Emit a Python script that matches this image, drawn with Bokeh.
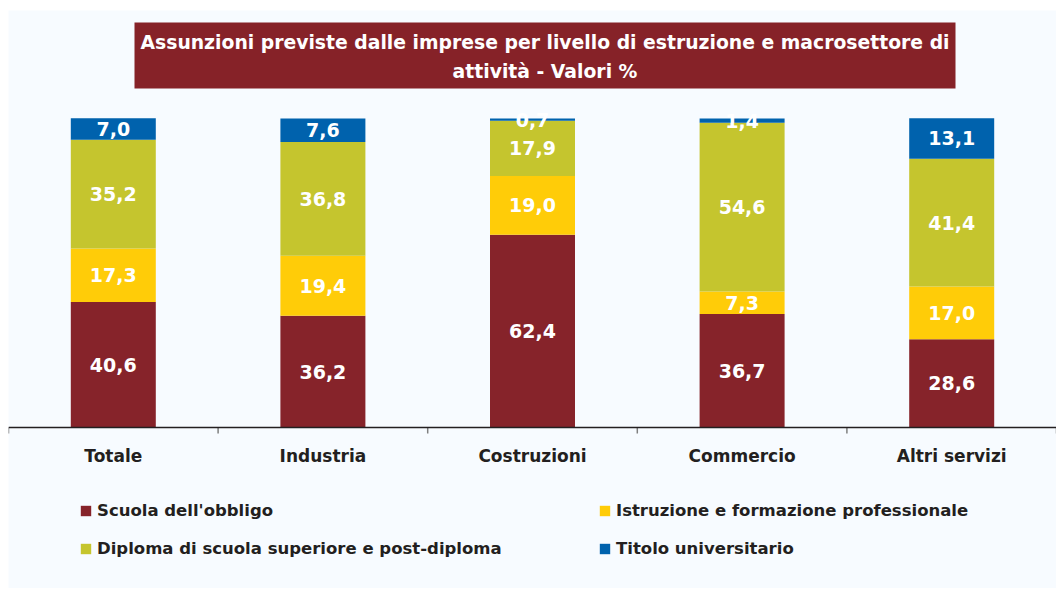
from bokeh.plotting import figure
from bokeh.models import ColumnDataSource, FactorRange, Range1d, Legend, LegendItem, Span
from bokeh.core.properties import value
from bokeh.embed import file_html
from bokeh.resources import INLINE

# ---------------- data ----------------
categories = ["Totale", "Industria", "Costruzioni", "Commercio", "Altri servizi"]
series_names = ["Scuola dell'obbligo",
                "Istruzione e formazione professionale",
                "Diploma di scuola superiore e post-diploma",
                "Titolo universitario"]
scuola = [40.6, 36.2, 62.4, 36.7, 28.6]
istruzione = [17.3, 19.4, 19.0, 7.3, 17.0]
diploma = [35.2, 36.8, 17.9, 54.6, 41.4]
titolo = [7.0, 7.6, 0.7, 1.4, 13.1]
title_lines = ["Assunzioni previste dalle imprese per livello di estruzione e macrosettore di",
               "attività - Valori %"]

# ---------------- style ----------------
colors = ["#86232A", "#FFCC08", "#C5C52E", "#0062AD"]
BG = "#F7FBFF"
FONT = "DejaVu Sans"
TXT = "#231F20"

W, H = 1056, 588
FL, FT = 8, 10                 # frame left / top (white strip outside)
PX = 3.09                      # pixels per percentage point
Y0 = 427                       # pixel row of the zero line
y_end = (Y0 - FT) / PX
y_start = -(H - Y0) / PX

def uy(py):   # pixel row -> data y
    return (Y0 - py) / PX

def ux(px):   # pixel column -> synthetic x
    return (px - FL) / ((W - FL) / len(categories))

keys = ["s1", "s2", "s3", "s4"]
source = ColumnDataSource(dict(cat=categories, s1=scuola, s2=istruzione,
                               s3=diploma, s4=titolo))

p = figure(x_range=FactorRange(*categories), y_range=Range1d(y_start, y_end),
           width=W, height=H, output_backend="svg", toolbar_location=None,
           x_axis_location=None, y_axis_location=None,
           min_border_left=FL, min_border_right=0, min_border_top=FT,
           min_border_bottom=0)
p.background_fill_color = BG
p.border_fill_color = "white"
p.outline_line_color = None
p.xgrid.grid_line_color = None
p.ygrid.grid_line_color = None

renderers = p.vbar_stack(keys, x="cat", width=0.4055, color=colors,
                         line_color=None, source=source)

# value labels
all_series = [scuola, istruzione, diploma, titolo]
bottoms = [0.0] * len(categories)
lx, ly, lt = [], [], []
for vals in all_series:
    for i, v in enumerate(vals):
        lx.append(categories[i])
        ly.append(bottoms[i] + v / 2.0)
        lt.append(f"{v:.1f}".replace(".", ","))
        bottoms[i] += v
p.text(x=lx, y=ly, text=lt, text_align="center", text_baseline="middle",
       text_color="white", text_font=value(FONT), text_font_style="bold",
       text_font_size="19px")

# axis line, boundary ticks, category labels
p.add_layout(Span(location=0, dimension="width", line_color=TXT, line_width=1.5))
bounds = list(range(len(categories) + 1))
p.segment(x0=bounds, y0=[0] * len(bounds), x1=bounds, y1=[-6 / PX] * len(bounds),
          line_color="#7F7F7F", line_width=1.5)
p.text(x=categories, y=[uy(455)] * len(categories), text=categories,
       text_align="center", text_baseline="middle", text_color=TXT,
       text_font=value(FONT), text_font_style="bold", text_font_size="17px")

# title box
p.quad(left=[ux(134)], right=[ux(955)], top=[uy(22)], bottom=[uy(88)],
       fill_color="#862228", line_color=None)
xc = (ux(134) + ux(955)) / 2
p.text(x=[xc, xc], y=[uy(42), uy(71)], text=title_lines, text_align="center",
       text_baseline="middle", text_color="white", text_font=value(FONT),
       text_font_style="bold", text_font_size="18.8px")

# legends (two columns)
def make_legend(idx, vx):
    items = [LegendItem(label=series_names[i], renderers=[renderers[i]]) for i in idx]
    return Legend(items=items, location=(vx, H - 558.5), orientation="vertical",
                  glyph_width=13, glyph_height=13, label_standoff=5,
                  label_height=20, spacing=18, padding=0, margin=0,
                  border_line_color=None, background_fill_alpha=0,
                  label_text_font=FONT, label_text_font_style="bold",
                  label_text_font_size="16.5px", label_text_color=TXT)

p.add_layout(make_legend([0, 2], 79 - FL), "center")
p.add_layout(make_legend([1, 3], 598 - FL), "center")

open("out.html", "w").write(file_html(p, INLINE))
